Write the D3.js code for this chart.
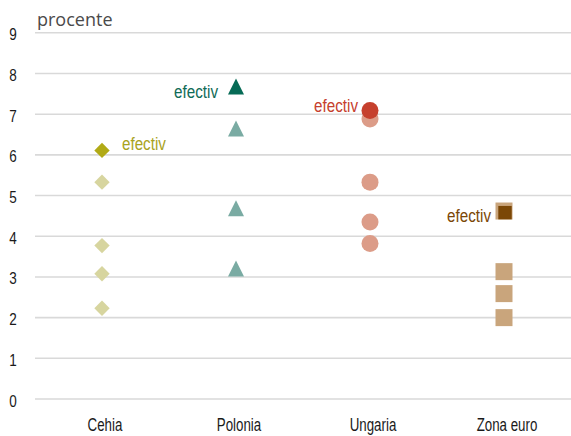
<!DOCTYPE html>
<html><head><meta charset="utf-8">
<script src="https://cdn.jsdelivr.net/npm/d3@7"></script>
<style>body{margin:0;background:#fff}svg{display:block}</style>
</head><body>
<svg id="c" width="571" height="436"></svg>
<script>
const categories = ["Cehia", "Polonia", "Ungaria", "Zona euro"];
// forecast values (light markers)
const forecastCehia = [5.33, 3.77, 3.08, 2.23];
const forecastPolonia = [6.65, 4.69, 3.21];
const forecastUngaria = [6.88, 5.33, 4.35, 3.82];
const forecastZonaEuro = [4.62, 3.13, 2.59, 2.0];
// actual values (dark markers)
const actualValues = [6.11, 7.68, 7.09, 4.58];
const actualLabel = "efectiv";
const yTicks = [0, 1, 2, 3, 4, 5, 6, 7, 8, 9];
const unitLabel = "procente";

const forecasts = [forecastCehia, forecastPolonia, forecastUngaria, forecastZonaEuro];
const shapes = ["diamond", "triangle", "circle", "square"];
const darkColors = ["#b1aa16", "#066b56", "#c6402d", "#7b4706"];
const lightColors = ["#d7d59f", "#7aaba3", "#dc9c88", "#c9a57c"];
const labelColors = ["#a9a31e", "#0f6b57", "#c6402d", "#7b4706"];

const svg = d3.select("#c");
const W = 571, H = 436;
const x = d3.scaleBand().domain(categories).range([35, 571]);
const y = d3.scaleLinear().domain([0, 9]).range([399, 32.8]);
const narrow = "'Liberation Sans',Arial,sans-serif";

// helper: horizontally condensed text
function condensed(sel, size, sx) {
  return sel.attr("font-family", narrow).attr("font-size", size)
    .attr("data-sx", sx);
}

// gridlines
svg.append("g").selectAll("line").data(yTicks).join("line")
  .attr("x1", 35).attr("x2", W)
  .attr("y1", d => y(d)).attr("y2", d => y(d))
  .attr("stroke", "#d9d9d9").attr("stroke-width", 1.6);

// y tick labels
svg.append("g").selectAll("text").data(yTicks).join("text")
  .attr("transform", d => `translate(13,${y(d) + 7.5}) scale(0.82,1)`)
  .attr("text-anchor", "middle")
  .attr("font-family", narrow).attr("font-size", 16.5).attr("fill", "#1a1a1a")
  .text(d => d);

svg.append("text").attr("x", 37).attr("y", 26)
  .attr("font-family", "'Open Sans',sans-serif").attr("font-size", 18)
  .attr("fill", "#4a4a4a").text(unitLabel);

// x labels
svg.append("g").selectAll("text").data(categories).join("text")
  .attr("transform", d => `translate(${x(d) + x.bandwidth() / 2 + 3},431) scale(0.72,1)`)
  .attr("text-anchor", "middle")
  .attr("font-family", narrow).attr("font-size", 18.5).attr("fill", "#1a1a1a")
  .text(d => d);

function markerPath(shape, s) {
  const h = s / 2;
  if (shape === "diamond") return `M0,${-h}L${h},0L0,${h}L${-h},0Z`;
  if (shape === "triangle") return `M0,${-h}L${h},${h}L${-h},${h}Z`;
  if (shape === "square") return `M${-h},${-h}H${h}V${h}H${-h}Z`;
  return d3.arc()({innerRadius: 0, outerRadius: h, startAngle: 0, endAngle: 2 * Math.PI});
}
const sizes = {diamond: 15.4, triangle: 16, circle: 17, square: 17};
const darkSizes = {diamond: 15.4, triangle: 16, circle: 17, square: 13.4};

categories.forEach((cat, i) => {
  const cx = x(cat) + x.bandwidth() / 2;
  const sh = shapes[i];
  svg.append("g").selectAll("path").data(forecasts[i]).join("path")
    .attr("d", markerPath(sh, sizes[sh]))
    .attr("transform", d => `translate(${cx},${y(d)})`)
    .attr("fill", lightColors[i]);
  const dx = sh === "square" ? 1 : 0;
  svg.append("path")
    .attr("d", markerPath(sh, darkSizes[sh]))
    .attr("transform", `translate(${cx + dx},${y(actualValues[i])})`)
    .attr("fill", darkColors[i]);
});

// "efectiv" labels
const labelPos = [
  {dx: 20, anchor: "start", dy: 0},
  {dx: -18, anchor: "end", dy: 11},
  {dx: -12, anchor: "end", dy: 1},
  {dx: -13, anchor: "end", dy: 9}
];
categories.forEach((cat, i) => {
  const cx = x(cat) + x.bandwidth() / 2;
  const p = labelPos[i];
  svg.append("text")
    .attr("transform", `translate(${cx + p.dx},${y(actualValues[i]) + p.dy}) scale(0.8,1)`)
    .attr("text-anchor", p.anchor)
    .attr("font-family", narrow).attr("font-size", 19)
    .attr("fill", labelColors[i]).text(actualLabel);
});
</script>
</body></html>
